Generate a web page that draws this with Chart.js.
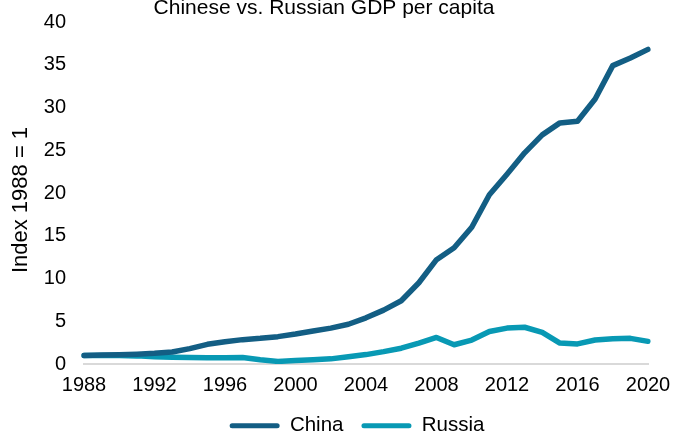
<!DOCTYPE html>
<html>
<head>
<meta charset="utf-8">
<script src="https://cdn.jsdelivr.net/npm/chart.js@4/dist/chart.umd.min.js"></script>
<style>
  html, body { margin: 0; padding: 0; background: #fff; overflow: hidden; }
  #wrap { position: absolute; left: 0; top: 0; width: 685px; height: 446px; }
</style>
</head>
<body>
<div id="wrap"><canvas id="c"></canvas></div>
<script>
const chartTitle = "Chinese vs. Russian GDP per capita";
const yAxisTitle = "Index 1988 = 1";
const years = [1988,1989,1990,1991,1992,1993,1994,1995,1996,1997,1998,1999,2000,2001,2002,2003,2004,2005,2006,2007,2008,2009,2010,2011,2012,2013,2014,2015,2016,2017,2018,2019,2020];
const china = [1.0,1.05,1.08,1.15,1.25,1.4,1.8,2.3,2.6,2.85,3.0,3.2,3.5,3.85,4.2,4.65,5.4,6.3,7.4,9.5,12.2,13.6,16.0,19.8,22.2,24.7,26.8,28.2,28.4,31.0,34.9,35.8,36.8];
const russia = [1.0,1.0,0.98,0.95,0.85,0.8,0.75,0.72,0.72,0.75,0.5,0.3,0.4,0.5,0.6,0.85,1.1,1.45,1.85,2.45,3.1,2.25,2.8,3.8,4.2,4.3,3.7,2.45,2.35,2.8,2.95,3.0,2.65];
const yTicks = [0,5,10,15,20,25,30,35,40];
const xTickYears = [1988,1992,1996,2000,2004,2008,2012,2016,2020];

const FONT = '"Liberation Sans", Arial, sans-serif';
const chinaColor = '#135E84';
const russiaColor = '#0899B4';

const titlePlugin = {
  id: 'customTitles',
  afterDraw(chart) {
    const ctx = chart.ctx;
    ctx.save();
    ctx.font = '21px ' + FONT;
    ctx.fillStyle = '#000';
    ctx.textAlign = 'center';
    ctx.textBaseline = 'alphabetic';
    ctx.fillText(chartTitle, 324, 14);
    ctx.restore();
    ctx.save();
    ctx.translate(21, 200);
    ctx.rotate(-Math.PI / 2);
    ctx.font = '22px ' + FONT;
    ctx.fillStyle = '#000';
    ctx.textAlign = 'center';
    ctx.textBaseline = 'middle';
    ctx.fillText(yAxisTitle, 0, 0);
    ctx.restore();
  }
};
const legendShift = {
  id: 'legendShift',
  afterLayout(chart) {
    if (chart.legend) { chart.legend.left += 33; chart.legend.right += 33; }
  }
};

new Chart(document.getElementById('c'), {
  type: 'line',
  data: {
    labels: years,
    datasets: [
      { label: 'China', data: china, borderColor: chinaColor, backgroundColor: chinaColor,
        borderWidth: 5.5, pointRadius: 0, tension: 0, borderCapStyle: 'round', borderJoinStyle: 'round' },
      { label: 'Russia', data: russia, borderColor: russiaColor, backgroundColor: russiaColor,
        borderWidth: 5.5, pointRadius: 0, tension: 0, borderCapStyle: 'round', borderJoinStyle: 'round' }
    ]
  },
  options: {
    responsive: true,
    maintainAspectRatio: false,
    devicePixelRatio: 1,
    animation: false,
    layout: { padding: { top: 22, right: 37, left: 0, bottom: 0 } },
    plugins: {
      title: { display: false },
      tooltip: { enabled: false },
      legend: {
        display: true,
        position: 'bottom',
        labels: {
          color: '#000',
          font: { family: FONT, size: 20.5 },
          boxWidth: 50,
          boxHeight: 5,
          padding: 18,
          useBorderRadius: true,
          borderRadius: 2.5,
          generateLabels: (chart) => Chart.defaults.plugins.legend.labels.generateLabels(chart).map(l => Object.assign(l, { lineWidth: 0 }))
        }
      }
    },
    scales: {
      x: {
        type: 'category',
        offset: false,
        grid: { display: false, drawTicks: false },
        border: { display: true, color: '#D9D9D9', width: 2 },
        ticks: {
          autoSkip: false,
          maxRotation: 0,
          minRotation: 0,
          padding: 9,
          color: '#000',
          font: { family: FONT, size: 20 },
          callback: function(value, index) {
            const yr = years[index];
            return xTickYears.includes(yr) ? String(yr) : null;
          }
        },
        afterFit: (s) => { s.height = 33.5; s.paddingLeft = 0; s.paddingRight = 0; }
      },
      y: {
        min: 0,
        max: 40,
        afterBuildTicks: (s) => { s.ticks = yTicks.map(v => ({ value: v })); },
        grid: { display: false, drawTicks: false },
        border: { display: false },
        ticks: {
          padding: 18,
          color: '#000',
          font: { family: FONT, size: 20 }
        },
        title: { display: false },
        afterFit: (s) => { s.width = 84; s.paddingTop = 0; s.paddingBottom = 0; }
      }
    }
  },
  plugins: [titlePlugin, legendShift]
});
</script>
</body>
</html>
